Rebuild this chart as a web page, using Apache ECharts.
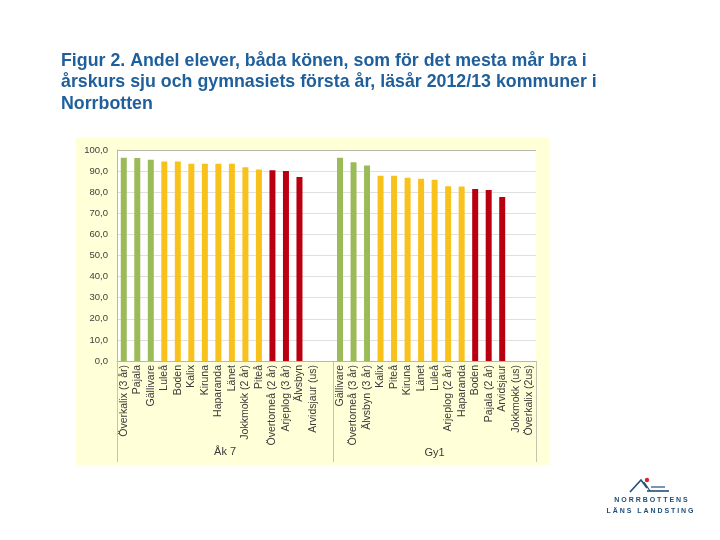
<!DOCTYPE html>
<html>
<head>
<meta charset="utf-8">
<script src="https://cdn.jsdelivr.net/npm/echarts@6/dist/echarts.min.js"></script>
<style>
html,body{margin:0;padding:0;background:#ffffff;}
#chart{width:720px;height:540px;}
</style>
</head>
<body>
<div id="chart"></div>
<script>
// ---- Data ----
const titleText = 'Figur 2. Andel elever, båda könen, som för det mesta mår bra i\nårskurs sju och gymnasiets första år, läsår 2012/13 kommuner i\nNorrbotten';
const groupNames = ['Åk 7', 'Gy1'];
const categoriesAk7 = ['Överkalix (3 år)', 'Pajala', 'Gällivare', 'Luleå', 'Boden', 'Kalix', 'Kiruna', 'Haparanda', 'Länet', 'Jokkmokk (2 år)', 'Piteå', 'Övertorneå (2 år)', 'Arjeplog (3 år)', 'Älvsbyn', 'Arvidsjaur (us)'];
const valuesAk7 = [96.3, 96.2, 95.4, 94.6, 94.6, 93.5, 93.5, 93.5, 93.5, 91.8, 90.7, 90.4, 90.0, 87.2, null];
const levelsAk7 = ['g', 'g', 'g', 'y', 'y', 'y', 'y', 'y', 'y', 'y', 'y', 'r', 'r', 'r', ''];
const categoriesGy1 = ['Gällivare', 'Övertorneå (3 år)', 'Älvsbyn (3 år)', 'Kalix', 'Piteå', 'Kiruna', 'Länet', 'Luleå', 'Arjeplog (2 år)', 'Haparanda', 'Boden', 'Pajala (2 år)', 'Arvidsjaur', 'Jokkmokk (us)', 'Överkalix (2us)'];
const valuesGy1 = [96.3, 94.2, 92.6, 87.8, 87.8, 86.9, 86.4, 85.9, 82.8, 82.7, 81.5, 81.0, 77.7, null, null];
const levelsGy1 = ['g', 'g', 'g', 'y', 'y', 'y', 'y', 'y', 'y', 'y', 'r', 'r', 'r', '', ''];
const yTicks = { min: 0, max: 100, interval: 10 };

// ---- Build ----
const levelColors = { g: '#9BBB59', y: '#F9C11C', r: '#BA0010', '': '#ffffff' };
const categories = categoriesAk7.concat([''], categoriesGy1);
const values = valuesAk7.concat([null], valuesGy1);
const levels = levelsAk7.concat([''], levelsGy1);
const gy1Start = categoriesAk7.length + 1;

const chart = echarts.init(document.getElementById('chart'), null, { renderer: 'canvas' });
const font = 'Arial, "Liberation Sans", sans-serif';

chart.setOption({
  backgroundColor: '#ffffff',
  animation: false,
  title: {
    text: titleText,
    left: 61, top: 50, padding: 0,
    textStyle: { fontFamily: font, fontSize: 17.8, fontWeight: 'bold', color: '#1F5F9B', lineHeight: 21.6 }
  },
  grid: {
    left: 117, right: 184, top: 150, bottom: 179,
    show: true, backgroundColor: '#ffffff', borderWidth: 0
  },
  xAxis: [{
    type: 'category',
    data: categories,
    axisLine: { show: true, lineStyle: { color: '#B8B8A8', width: 1 } },
    axisTick: { show: false },
    axisLabel: { interval: 0, rotate: 90, margin: 4, fontFamily: font, fontSize: 10.5, color: '#3a3a3a' }
  }, {
    type: 'category',
    data: categories,
    position: 'bottom',
    axisLine: { show: false },
    axisLabel: { show: false },
    axisTick: {
      show: true, length: 101,
      interval: function (i) { return i === 0 || i === gy1Start; },
      lineStyle: { color: '#C4C4B4', width: 1 }
    }
  }],
  yAxis: {
    type: 'value',
    min: yTicks.min, max: yTicks.max, interval: yTicks.interval,
    axisLine: { show: true, lineStyle: { color: '#B8B8A8', width: 1 } },
    axisTick: { show: false },
    axisLabel: {
      margin: 9, fontFamily: font, fontSize: 9.5, color: '#404040',
      formatter: function (v) { return v.toFixed(1).replace('.', ','); }
    },
    splitLine: {
      show: true,
      lineStyle: { color: ['#B8B8A8', '#E0E0E0', '#E0E0E0', '#E0E0E0', '#E0E0E0', '#E0E0E0', '#E0E0E0', '#E0E0E0', '#E0E0E0', '#E0E0E0', '#B8B8A8'], width: 1 }
    }
  },
  series: [{
    type: 'bar',
    data: values,
    barWidth: 6,
    itemStyle: {
      color: function (p) { return levelColors[levels[p.dataIndex]]; }
    }
  }]
});

// group labels + background + logo
const x0 = chart.convertToPixel({ xAxisIndex: 0 }, 0);
const x1 = chart.convertToPixel({ xAxisIndex: 0 }, categoriesAk7.length);
const x2 = chart.convertToPixel({ xAxisIndex: 0 }, gy1Start);
const x3 = chart.convertToPixel({ xAxisIndex: 0 }, categories.length - 1);

chart.setOption({
  graphic: [
    { type: 'rect', z: -100, silent: true, shape: { x: 76, y: 138, width: 473, height: 327 }, style: { fill: '#FFFFD8' } },
    { type: 'text', x: (x0 + x1) / 2, y: 452, style: { text: groupNames[0], fontFamily: font, fontSize: 11, fill: '#3a3a3a', align: 'center', verticalAlign: 'middle' } },
    { type: 'text', x: (x2 + x3) / 2, y: 453, style: { text: groupNames[1], fontFamily: font, fontSize: 11, fill: '#3a3a3a', align: 'center', verticalAlign: 'middle' } },
    // logo
    { type: 'polyline', shape: { points: [[630, 492], [641, 480], [647, 488]] }, style: { stroke: '#1F4E79', lineWidth: 1.6, fill: null } },
    { type: 'polyline', shape: { points: [[644, 482], [650, 491]] }, style: { stroke: '#1F4E79', lineWidth: 1.2, fill: null } },
    { type: 'line', shape: { x1: 647, y1: 491, x2: 669, y2: 491 }, style: { stroke: '#1F4E79', lineWidth: 1.6 } },
    { type: 'line', shape: { x1: 651, y1: 487, x2: 665, y2: 487 }, style: { stroke: '#1F4E79', lineWidth: 1.2 } },
    { type: 'circle', shape: { cx: 647, cy: 480, r: 2.2 }, style: { fill: '#D9252A' } },
    { type: 'text', x: 651, y: 500, style: { text: 'N O R R B O T T E N S', fontFamily: font, fontSize: 7, fontWeight: 'bold', fill: '#1F4E79', align: 'center', verticalAlign: 'middle' } },
    { type: 'text', x: 650, y: 511, style: { text: 'L Ä N S   L A N D S T I N G', fontFamily: font, fontSize: 7, fontWeight: 'bold', fill: '#1F4E79', align: 'center', verticalAlign: 'middle' } }
  ]
});
</script>
</body>
</html>
